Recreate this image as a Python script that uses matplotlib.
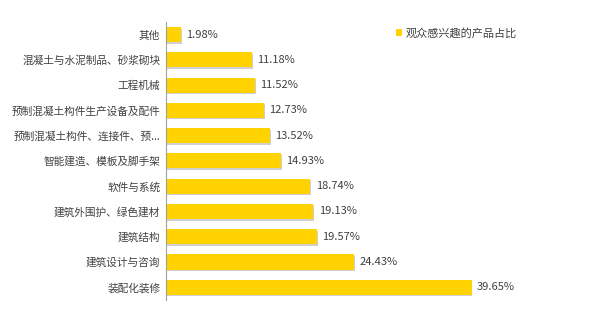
"""
Bar chart of the product share audiences were interested in
"""

import numpy as np
import matplotlib.pyplot as plt

plt.rcParams['font.family'] = ['Noto Sans CJK SC', 'DejaVu Sans']

categories = ["其他", "混凝土与水泥制品、砂浆砌块", "工程机械",
              "预制混凝土构件生产设备及配件", "预制混凝土构件、连接件、预...",
              "智能建造、模板及脚手架", "软件与系统", "建筑外围护、绿色建材",
              "建筑结构", "建筑设计与咨询", "装配化装修"]
values = [1.98, 11.18, 11.52, 12.73, 13.52, 14.93, 18.74, 19.13, 19.57, 24.43, 39.65]
series_name = "观众感兴趣的产品占比"

bar_color = '#FFD200'
text_color = '#404040'

fig = plt.figure(figsize=(5.9, 3.18), dpi=100)
ax = fig.add_axes([0.281, 0.057, 0.66, 0.874])

y = np.arange(len(categories))

# soft shadow under each bar
ax.barh(y + 0.06, values, height=0.6, left=0.12, color='#b0b0b0',
        alpha=0.6, zorder=1)
bars = ax.barh(y, values, height=0.6, color=bar_color, zorder=2,
               label=series_name)

for yi, v in zip(y, values):
    ax.text(v + 0.7, yi, "%.2f%%" % v, va='center', ha='left',
            fontsize=8, color=text_color)

ax.set_ylim(len(categories) - 0.5, -0.5)
ax.set_xlim(0, 50.5)
ax.set_yticks(y)
ax.set_yticklabels(categories, fontsize=7.7, color=text_color)
ax.tick_params(axis='y', length=0, pad=4)
ax.set_xticks([])

for s in ['top', 'right', 'bottom']:
    ax.spines[s].set_visible(False)
ax.spines['left'].set_color('#a0a0a0')
ax.spines['left'].set_linewidth(0.8)

leg = fig.legend(handles=[bars], labels=[series_name], loc='center left',
                 bbox_to_anchor=(0.663, 0.896), frameon=False, fontsize=8,
                 handlelength=0.6, handleheight=0.6, handletextpad=0.3,
                 borderaxespad=0)
for t in leg.get_texts():
    t.set_color(text_color)

fig.savefig("out.png", dpi=100)
